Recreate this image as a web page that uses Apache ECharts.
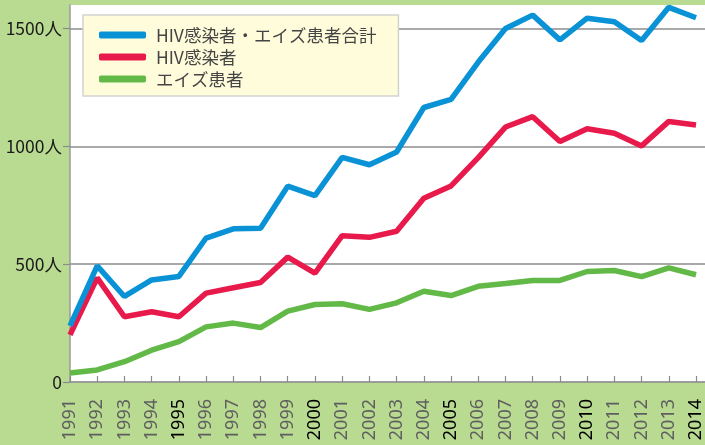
<!DOCTYPE html>
<html>
<head>
<meta charset="utf-8">
<script src="https://cdn.jsdelivr.net/npm/echarts@6/dist/echarts.min.js"></script>
<style>
  html, body { margin: 0; padding: 0; background: #b9da91; }
  #chart { width: 705px; height: 445px; }
</style>
</head>
<body>
<div id="chart"></div>
<script>
  // 年次
  const years = [1991, 1992, 1993, 1994, 1995, 1996, 1997, 1998, 1999, 2000, 2001, 2002,
    2003, 2004, 2005, 2006, 2007, 2008, 2009, 2010, 2011, 2012, 2013, 2014]
  // 合計
  const totalValues = [238, 493, 363, 433, 448, 611, 650, 653, 831, 791, 953, 922,
    976, 1165, 1199, 1358, 1500, 1557, 1452, 1544, 1529, 1449, 1590, 1546]
  // HIV感染者
  const hivValues = [200, 442, 277, 298, 277, 377, 400, 422, 530, 462, 621, 614,
    640, 780, 832, 952, 1082, 1126, 1021, 1075, 1056, 1002, 1106, 1091]
  // エイズ患者
  const aidsValues = [38, 51, 86, 135, 171, 234, 250, 231, 301, 329, 332, 308,
    336, 385, 367, 406, 418, 431, 431, 469, 473, 447, 484, 455]
  const seriesNames = ['HIV感染者・エイズ患者合計', 'HIV感染者', 'エイズ患者']
  const yTicks = [0, 500, 1000, 1500]
  const yTickLabels = ['0', '500人', '1000人', '1500人']
  const boldYears = [1995, 2000, 2005, 2010, 2014]

  const colors = ['#0a92d6', '#e81a4b', '#62b947']
  const pairs = (vals) => years.map((y, i) => [y, vals[i]])

  const chart = echarts.init(document.getElementById('chart'))
  chart.setOption({
    backgroundColor: '#b9da91',
    animation: false,
    grid: {
      left: 70, right: 0, top: 5, bottom: 63,
      outerBoundsMode: 'none',
      show: true, backgroundColor: '#ffffff', borderWidth: 0
    },
    legend: {
      orient: 'vertical',
      left: 83, top: 15,
      padding: [10, 22, 7, 16],
      backgroundColor: '#fffcdb',
      borderColor: '#d2d2d2',
      borderWidth: 1.5,
      itemWidth: 47, itemHeight: 7, itemGap: 2,
      icon: 'roundRect',
      data: seriesNames,
      textStyle: {
        fontFamily: '"Noto Sans CJK JP", "Noto Sans", sans-serif',
        fontSize: 17.5, color: '#444', lineHeight: 20,
        padding: [0, 0, 0, 5]
      }
    },
    xAxis: {
      type: 'value',
      min: 1991, max: 2014.33, interval: 1,
      axisLine: { show: true, onZero: false, lineStyle: { color: '#9a9a9a', width: 1.5 } },
      axisTick: { show: true, inside: true, length: 6, lineStyle: { color: '#8a8a8a', width: 1.2 } },
      splitLine: { show: false },
      axisLabel: {
        rotate: 90, margin: 17,
        showMaxLabel: false,
        fontFamily: '"Noto Sans", sans-serif', fontSize: 18,
        formatter: (v) => (Number.isInteger(v) ? String(v) : ''),
        color: (v) => (boldYears.includes(Number(v)) ? '#000' : '#5f5f5f')
      }
    },
    yAxis: {
      type: 'value',
      min: 0, max: 1600, interval: 500,
      axisLine: { show: true, lineStyle: { color: '#9a9a9a', width: 1.5 } },
      axisTick: { show: true, length: 7, lineStyle: { color: '#8a8a8a', width: 1.2 } },
      splitLine: { show: true, showMaxLine: false, lineStyle: { color: '#8c8c8c', width: 1.5 } },
      axisLabel: {
        margin: 8, showMaxLabel: false,
        fontFamily: '"Noto Sans CJK JP", "Noto Sans", sans-serif', fontSize: 17.5, color: '#1a1a1a',
        formatter: (v) => {
          const i = yTicks.indexOf(v)
          return i >= 0 ? yTickLabels[i] : ''
        }
      }
    },
    series: [totalValues, hivValues, aidsValues].map((vals, i) => ({
      name: seriesNames[i],
      type: 'line',
      data: pairs(vals),
      symbol: 'none',
      color: colors[i],
      lineStyle: { width: 5.5, color: colors[i] },
      z: 3 - i
    }))
  })
</script>
</body>
</html>
